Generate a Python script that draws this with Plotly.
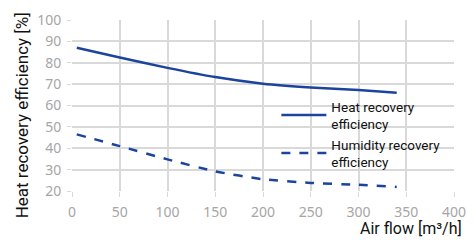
import plotly.graph_objects as go

airflow = [5, 50, 100, 150, 200, 250, 300, 340]
heat_eff = [87, 82.5, 77.6, 73.3, 70.2, 68.4, 67.2, 66.0]
humidity_eff = [46.5, 41.0, 34.8, 29.2, 25.5, 23.8, 22.9, 21.9]
x_ticks = [0, 50, 100, 150, 200, 250, 300, 350, 400]
y_ticks = [20, 30, 40, 50, 60, 70, 80, 90, 100]

blue = "#1c449c"
grid = "#d9d9d9"
tickc = "#a6a6a6"

fig = go.Figure()
fig.add_trace(go.Scatter(x=airflow, y=heat_eff, mode="lines", line=dict(color=blue, width=2.5, shape="spline", smoothing=0.6),
                         name="Heat recovery<br>efficiency"))
fig.add_trace(go.Scatter(x=airflow, y=humidity_eff, mode="lines", line=dict(color=blue, width=2.5, dash="dash", shape="spline", smoothing=0.6),
                         name="Humidity recovery<br>efficiency"))

fig.update_layout(
    width=476, height=240,
    margin=dict(l=72, r=10, t=15, b=49),
    paper_bgcolor="white", plot_bgcolor="white",
    showlegend=True,
    legend=dict(x=0.535, y=0.585, xanchor="left", yanchor="top", bgcolor="rgba(0,0,0,0)",
                font=dict(family="Roboto", size=13.5, color="#111111"),
                tracegroupgap=2, itemwidth=45),
    shapes=[dict(type="rect", xref="paper", yref="paper", x0=0.492, x1=0.949, y0=0.142, y1=0.55,
                 fillcolor="white", line=dict(width=0), layer="between")],
    xaxis=dict(range=[0, 400], tickvals=x_ticks, showgrid=True, gridcolor=grid, gridwidth=1.5,
               zeroline=False, showline=False, ticks="outside", ticklen=5, tickcolor=grid,
               ticklabeloverflow="allow", ticklabelstandoff=3,
               tickfont=dict(family="Noto Sans", size=14, color=tickc)),
    yaxis=dict(range=[20, 100], tickvals=y_ticks, showgrid=True, gridcolor=grid, gridwidth=1.5,
               zeroline=False, showline=False, ticks="outside", ticklen=4, tickcolor=grid,
               ticklabelstandoff=3,
               tickfont=dict(family="Noto Sans", size=14, color=tickc)),
    annotations=[
        dict(text="Air flow [m³/h]", xref="paper", yref="paper", x=1.025, y=-0.22,
             xanchor="right", yanchor="middle", showarrow=False,
             font=dict(family="Roboto", size=16, color="#111111")),
        dict(text="Heat recovery efficiency [%]", xref="paper", yref="paper", x=-0.132, y=0.44,
             xanchor="center", yanchor="middle", textangle=-90, showarrow=False,
             font=dict(family="Roboto", size=17, color="#111111")),
    ],
)

fig.write_html("out.html", config={"displayModeBar": False},
               post_script="document.body.style.margin='0';")
